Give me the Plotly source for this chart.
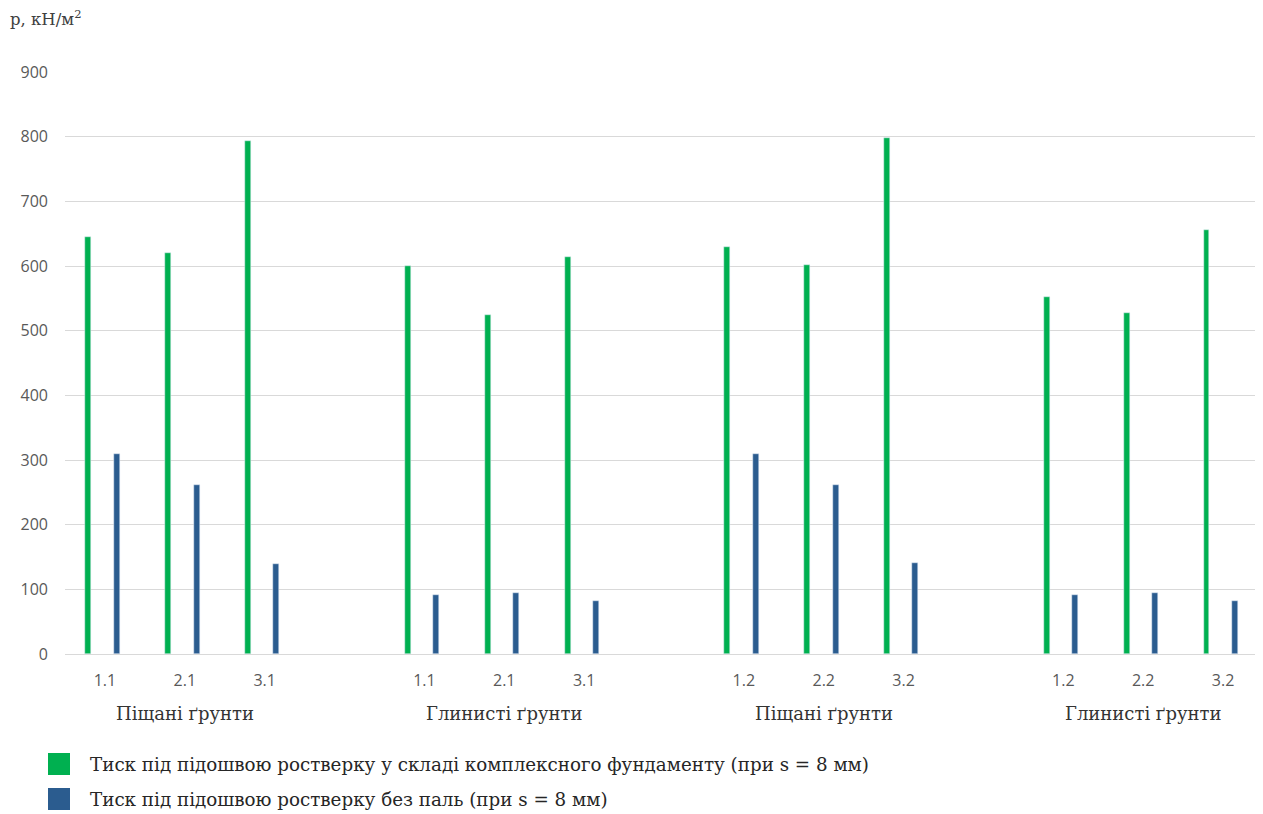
import plotly.graph_objects as go

# ---- data ----
groups = ["Піщані ґрунти", "Глинисті ґрунти", "Піщані ґрунти", "Глинисті ґрунти"]
tick_labels = [
    ["1.1", "2.1", "3.1"],
    ["1.1", "2.1", "3.1"],
    ["1.2", "2.2", "3.2"],
    ["1.2", "2.2", "3.2"],
]
green_values = [
    [645, 620, 793],
    [600, 525, 614],
    [629, 601, 798],
    [552, 528, 655],
]
blue_values = [
    [310, 262, 139],
    [91, 94, 82],
    [310, 262, 140],
    [91, 94, 82],
]
series_names = [
    "Тиск під підошвою ростверку у складі комплексного фундаменту (при s = 8 мм)",
    "Тиск під підошвою ростверку без паль (при s = 8 мм)",
]
y_title = "p, кН/м<sup>2</sup>"

# ---- build positions (one empty slot between groups) ----
x_pos, x_text, g_vals, b_vals = [], [], [], []
group_centers = []
for g in range(len(groups)):
    base = g * 4
    group_centers.append(base + 1)
    for i in range(3):
        x_pos.append(base + i)
        x_text.append(tick_labels[g][i])
        g_vals.append(green_values[g][i])
        b_vals.append(blue_values[g][i])

GREEN = "#00B050"
BLUE = "#2B5C8F"
SERIF = "DejaVu Serif"
SANS = "Open Sans"

fig = go.Figure()
fig.add_trace(go.Bar(x=x_pos, y=g_vals, name=series_names[0], marker_color=GREEN,
                     width=0.075, offset=-0.245, showlegend=False))
fig.add_trace(go.Bar(x=x_pos, y=b_vals, name=series_names[1], marker_color=BLUE,
                     width=0.075, offset=0.11, showlegend=False))

# page offset (body margin) and plot-area geometry in screen pixels
OFF = 8
W, H = 1263 - OFF, 814 - OFF
L, R, T, B = 65, 1263, 72, 654  # screen coords
pw, ph = R - L, B - T

def px(xp):
    return (xp - L) / pw

def py(yp):
    return (B - yp) / ph

annotations = []
for gc, gname in zip(group_centers, groups):
    annotations.append(dict(x=gc, xref="x", y=0, yref="paper", yshift=-59,
                            text=gname, showarrow=False, yanchor="middle",
                            font=dict(family=SERIF, size=18, color="#333333")))

annotations.append(dict(x=px(8), xref="paper", y=py(18), yref="paper", text=y_title,
                        showarrow=False, xanchor="left", yanchor="middle",
                        font=dict(family=SERIF, size=16.5, color="#404040")))

shapes = []
legend_rows = [(764, GREEN, series_names[0]), (799, BLUE, series_names[1])]
for yc, col, name in legend_rows:
    shapes.append(dict(type="rect", xref="paper", yref="paper",
                       x0=px(48), x1=px(70), y0=py(yc - 11), y1=py(yc + 11),
                       fillcolor=col, line=dict(width=0)))
    annotations.append(dict(x=px(88), xref="paper", y=py(yc), yref="paper", text=name,
                            showarrow=False, xanchor="left", yanchor="middle",
                            font=dict(family=SERIF, size=18.3, color="#262626")))

fig.update_layout(
    width=W, height=H,
    margin=dict(l=L - OFF, r=1263 - R, t=T - OFF, b=814 - B),
    plot_bgcolor="white", paper_bgcolor="white",
    bargap=0,
    annotations=annotations,
    shapes=shapes,
    xaxis=dict(range=[-0.5, 14.5], tickmode="array", tickvals=x_pos, ticktext=x_text,
               showgrid=False, zeroline=False, showline=True, linecolor="#D9D9D9",
               linewidth=1, ticks="", ticklabelstandoff=12,
               tickfont=dict(family=SANS, size=16, color="#595959")),
    yaxis=dict(range=[0, 900], dtick=100, showgrid=True, gridcolor="#D9D9D9",
               gridwidth=1, zeroline=False, showline=False, ticks="",
               ticklabelstandoff=16,
               tickfont=dict(family=SANS, size=16, color="#595959")),
)

fig.write_html("out.html")
